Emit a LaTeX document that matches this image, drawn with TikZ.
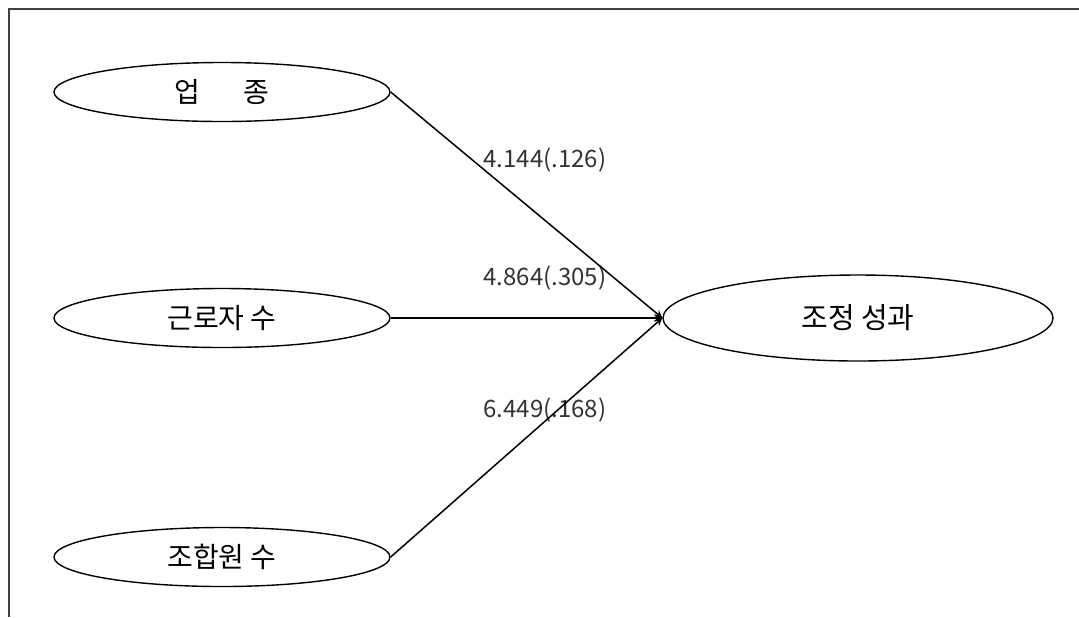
\documentclass[tikz,border=0pt]{standalone}
\usepackage{fontspec}
\setmainfont{Noto Sans CJK KR}
\usetikzlibrary{shapes,arrows,positioning,calc}

\begin{document}
\begin{tikzpicture}[
  x=0.5pt, y=-0.5pt,
  factor/.style={ellipse, draw, line width=0.7pt, minimum width=168pt, minimum height=29.5pt, inner sep=0pt, font=\fontsize{14}{16}\selectfont},
  outcome/.style={ellipse, draw, line width=0.7pt, minimum width=195pt, minimum height=43pt, inner sep=0pt, font=\fontsize{14.5}{17}\selectfont},
  coef/.style={inner sep=0pt, text=black!80, font=\fontsize{12}{14}\selectfont},
  arrow/.style={->, >=stealth, line width=0.75pt}
]
  \useasboundingbox (0,0) rectangle (1079,617);
  \draw[line width=1pt, black!75] (9,617) -- (9,9) -- (1079,9);

  \node[factor] (industry) at (222,92) {업\hspace{22pt}종};
  \node[factor] (workers) at (222,318) {근로자 수};
  \node[factor] (members) at (222,557) {조합원 수};
  \node[outcome] (result) at (858,318) {조정 성과};

  \node[coef] (c1) at (545,160) {4.144(.126)};
  \node[coef] (c2) at (545,278) {4.864(.305)};
  \node[coef] (c3) at (545,410) {6.449(.168)};

  \draw[arrow] (industry.east) -- (result.west);
  \draw[arrow] (workers.east) -- (result.west);
  \draw[arrow] (members.east) -- (result.west);
\end{tikzpicture}
\end{document}
